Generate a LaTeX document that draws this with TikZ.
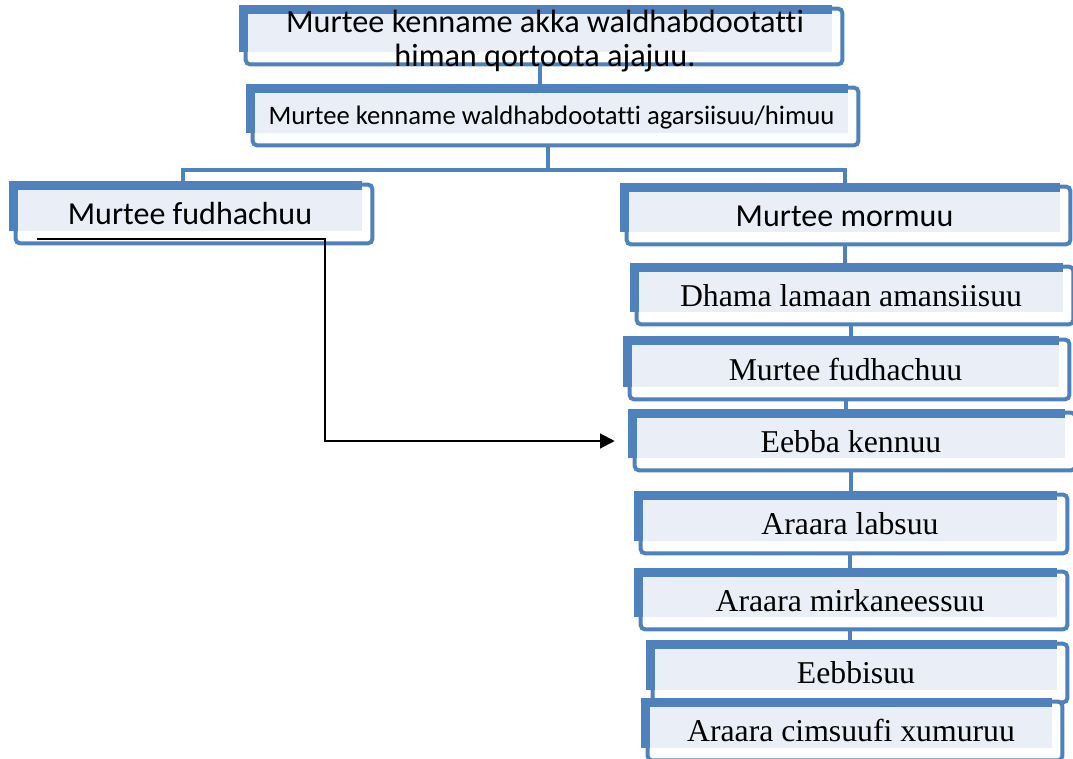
\documentclass[tikz,border=0pt]{standalone}
\usepackage{fontspec}
\setmainfont{Liberation Serif}
\newfontfamily\calibri[Ligatures=NoCommon]{Carlito}
\usetikzlibrary{arrows.meta}
\definecolor{rimblue}{RGB}{79,129,189}
\definecolor{panefill}{RGB}{233,238,247}
\pgfdeclarelayer{links}
\pgfdeclarelayer{frames}
\pgfsetlayers{links,frames,main}
\tikzset{
  pane/.style={fill=panefill, inner sep=0pt, text height=21.5pt, text depth=0pt},
  panesize/.style 2 args={minimum width=#1*0.75pt, minimum height=#2*0.75pt},
  sans/.style={font=\calibri\fontsize{24}{26}\selectfont},
  serif/.style={font=\fontsize{23.8}{28}\selectfont},
  rim/.style={draw=rimblue, fill=white, line width=3pt, rounded corners=3pt},
  link/.style={draw=rimblue, line width=3pt},
  flow/.style={line width=1.6pt, -{Triangle[length=11pt,width=11pt]}}
}

\begin{document}
\begin{tikzpicture}[x=0.75pt, y=-0.75pt] % 1 unit = 1 px, y downwards
  \useasboundingbox (0,0) rectangle (1073,759);

  % pale panes, sizes in px
  \node[pane, panesize={584}{38}] (b1) at (540,33) {};
  \node[font=\calibri\fontsize{24.2}{25.5}\selectfont, align=center, inner sep=0pt] (b1text) at (545,41)
    {Murtee kenname akka waldhabdootatti\\himan qortoota ajajuu.}; % text runs over the frame
  \node[pane, panesize={593}{40}, text height=18pt, font=\calibri\fontsize{20}{24}\selectfont] (b2) at (551.5,113)
    {Murtee kenname waldhabdootatti agarsiisuu/himuu};
  \node[pane, sans, panesize={344}{41}] (b3) at (190,210.5) {Murtee fudhachuu};
  \node[pane, sans, panesize={431}{40}] (b4) at (844.5,212) {Murtee mormuu};

  % right column, serif
  \node[pane, serif, panesize={424}{40}] (b5) at (851,292) {Dhama lamaan amansiisuu};
  \node[pane, serif, panesize={427}{42}] (b6) at (845.5,366) {Murtee fudhachuu};
  \node[pane, serif, panesize={428}{40}] (b7) at (851,438) {Eebba kennuu};
  \node[pane, serif, panesize={414}{41}] (b8) at (850,520.5) {Araara labsuu};
  \node[pane, serif, panesize={414}{40}] (b9) at (850,597) {Araara mirkaneessuu};
  \node[pane, serif, panesize={402}{41}] (b10) at (856,669.5) {Eebbisuu};
  \node[pane, serif, panesize={402}{41}] (b11) at (851,727.5) {Araara cimsuufi xumuruu};

  % frames: rounded rim, then blue band at top and left
  \begin{pgfonlayer}{frames}
    \foreach \n in {b1,b2,b3,b4,b5,b6,b7,b8,b9,b10,b11} {
      \draw[rim] ([shift={(-2,-5)}]\n.north west) rectangle ([shift={(10,12)}]\n.south east);
      \fill[rimblue] ([shift={(-9,-9)}]\n.north west) rectangle (\n.south east);
    }
  \end{pgfonlayer}

  % blue links behind the frames
  \begin{pgfonlayer}{links}
    \coordinate (fork) at (548,170);
    \draw[link] (b1.south) -- (b1.south |- b2.north);
    \draw[link] (b2.south -| fork) -- (fork);
    \draw[link] ([xshift=-5]b3.north) |- (fork) -| (b4.north);
    \foreach \a/\b in {b4/b5,b5/b6,b6/b7,b7/b8,b8/b9,b9/b10,b10/b11}
      \draw[link] (\a.south) -- (\a.south |- \b.north);
  \end{pgfonlayer}

  % black arrow
  \coordinate (start) at ([shift={(19,8)}]b3.south west);
  \coordinate (bend) at (325,441);
  \coordinate (tip) at ([shift={(-22,3)}]b7.west);
  \draw[flow] (start) -| (bend) -- (tip);
\end{tikzpicture}
\end{document}
